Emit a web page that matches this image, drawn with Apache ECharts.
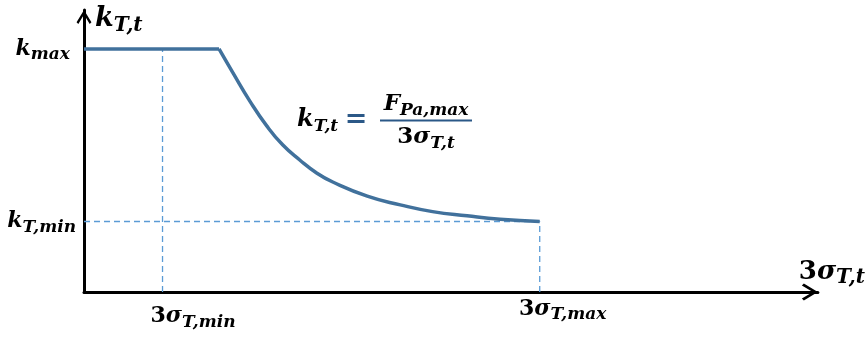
<!DOCTYPE html>
<html><head><meta charset="utf-8">
<script src="https://cdn.jsdelivr.net/npm/echarts@6/dist/echarts.min.js"></script>
<style>html,body{margin:0;padding:0;background:#fff}#c{width:868px;height:339px}</style>
</head><body><div id="c"></div>
<script>
// ---- data (arbitrary units 0..100) ----
const flatX = [0, 18.4];
const flatY = [86.2, 86.2];
const curveX = [18.4, 20.3, 22.6, 24.9, 27.1, 29.4, 31.7, 33.9, 38.6, 43.1, 47.5, 52.2, 56.7, 62.1];
const curveY = [86.2, 77.7, 67.7, 58.9, 52.1, 46.8, 42.2, 39.0, 34.0, 30.9, 28.5, 27.0, 25.8, 25.0];
const xTickValues = [10.7, 62.1];          // 3σT,min , 3σT,max
const yTickValues = [25.0, 86.2];          // kT,min , kmax
const xTickLabels = ['{p1| }{u|3}{m|σ}{s|T,min}', '{p2| }{u|3}{m|σ}{s|T,max}'];
const yTickLabels = ['{m|k}{s|T,min}', '{m|k}{s|max}{q| }'];
const xAxisName = '{u|3}{m|σ}{s|T,t}';
const yAxisName = '{m|k}{s|T,t}';
const formulaLeft = '{m|k}{s|T,t}';
const formulaNum = '{m|F}{s|Pa,max}';
const formulaDen = '{u|3}{m|σ}{s|T,t}';

const FONT = 'DejaVu Serif';
const CURVE = '#41719C', DASH = '#5B9BD5', FORM = '#2B5887';

function richSet(main, sub, color, drop, extra) {
  const base = {fontFamily: FONT, fontWeight: 'bold', color: color};
  const r = {
    m: Object.assign({}, base, {fontStyle: 'italic', fontSize: main}),
    u: Object.assign({}, base, {fontStyle: 'normal', fontSize: main}),
    s: Object.assign({}, base, {fontStyle: 'italic', fontSize: sub, padding: [2 * (drop + 0.35 * (main - sub)), 0, 0, 0]})
  };
  return Object.assign(r, extra || {});
}
const pairs = (xs, ys) => xs.map((x, i) => [x, ys[i]]);
const findLabel = (vals, labels, v) => { const i = vals.findIndex(t => Math.abs(t - v) < 1e-6); return i < 0 ? '' : labels[i]; };

const chevron = 'path://M0,0 L8.5,14 L6.5,16 L0,5 L-6.5,16 L-8.5,14 Z';

const chart = echarts.init(document.getElementById('c'), null, {renderer: 'canvas'});
const dashStyle = {color: DASH, width: 1.3, type: [6, 4]};
chart.setOption({
  animation: false,
  backgroundColor: '#fff',
  grid: {left: 84, right: 50, top: 10, bottom: 47},
  xAxis: {
    type: 'value', min: 0, max: 100,
    name: xAxisName, nameLocation: 'end', nameGap: -19,
    nameTextStyle: {align: 'left', verticalAlign: 'bottom', padding: [0, 0, 4, 0], rich: richSet(26, 20, '#000', 4)},
    axisLine: {onZero: false, lineStyle: {color: '#000', width: 3}, symbol: ['none', chevron], symbolSize: [17, 16], symbolOffset: [0, -8]},
    axisTick: {show: false}, splitLine: {show: false},
    axisLabel: {
      customValues: xTickValues, margin: 3,
      formatter: v => findLabel(xTickValues, xTickLabels, v),
      rich: richSet(22, 17, '#000', 4, {p1: {width: 61, height: 43}, p2: {width: 46}})
    }
  },
  yAxis: {
    type: 'value', min: 0, max: 100,
    name: yAxisName, nameLocation: 'end', nameGap: -9,
    nameTextStyle: {align: 'left', verticalAlign: 'middle', padding: [0, 0, 0, 11], rich: richSet(27, 20, '#000', 4)},
    axisLine: {onZero: false, lineStyle: {color: '#000', width: 3}, symbol: ['none', chevron], symbolSize: [17, 14], symbolOffset: [0, -7]},
    axisTick: {show: false}, splitLine: {show: false},
    axisLabel: {
      customValues: yTickValues, margin: 8,
      formatter: v => findLabel(yTickValues, yTickLabels, v),
      rich: richSet(22, 17, '#000', 4, {q: {width: 6}})
    }
  },
  series: [
    {type: 'line', symbol: 'none', silent: true, z: 1, lineStyle: dashStyle,
     data: [[xTickValues[0], 0], [xTickValues[0], yTickValues[1]]]},
    {type: 'line', symbol: 'none', silent: true, z: 1, lineStyle: dashStyle,
     data: [[0, yTickValues[0]], [xTickValues[1], yTickValues[0]]]},
    {type: 'line', symbol: 'none', silent: true, z: 1, lineStyle: dashStyle,
     data: [[xTickValues[1], 0], [xTickValues[1], yTickValues[0]]]},
    {type: 'line', symbol: 'none', z: 3, lineStyle: {color: CURVE, width: 3.5}, data: pairs(flatX, flatY)},
    {type: 'line', symbol: 'none', z: 3, smooth: 0.5, lineStyle: {color: CURVE, width: 3.5}, data: pairs(curveX, curveY)}
  ],
  graphic: [
    {type: 'text', x: 297, y: 120, style: {text: formulaLeft, align: 'left', verticalAlign: 'middle', rich: richSet(24, 17, FORM, 4)}},
    {type: 'text', x: 356, y: 120, style: {text: '=', align: 'center', verticalAlign: 'middle', font: 'bold 27px "DejaVu Serif"', fill: FORM}},
    {type: 'text', x: 426, y: 104, style: {text: formulaNum, align: 'center', verticalAlign: 'middle', rich: richSet(23, 17, FORM, 4)}},
    {type: 'line', shape: {x1: 380, y1: 120.5, x2: 472, y2: 120.5}, style: {stroke: FORM, lineWidth: 2}},
    {type: 'text', x: 426, y: 137, style: {text: formulaDen, align: 'center', verticalAlign: 'middle', rich: richSet(23, 17, FORM, 4)}}
  ]
});
</script>
</body></html>
